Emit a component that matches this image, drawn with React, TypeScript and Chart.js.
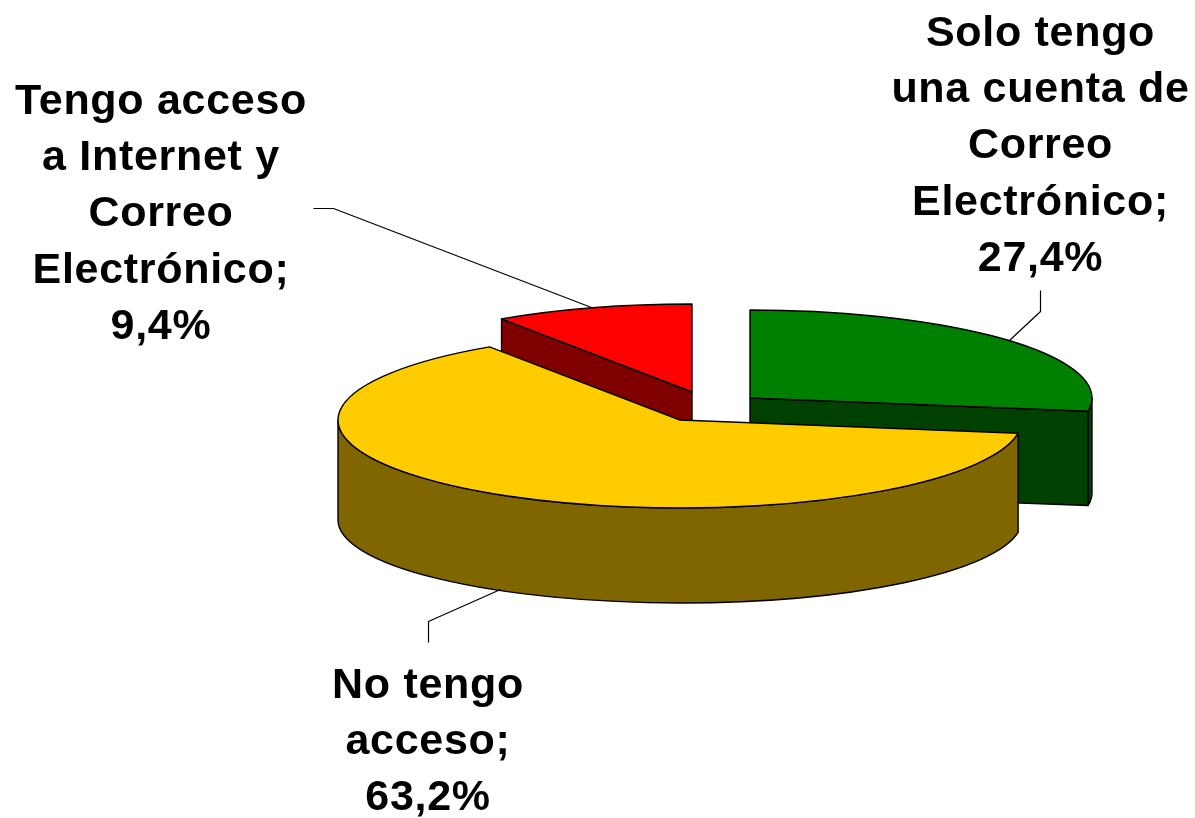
import React, { useEffect, useRef } from "react";
import { Chart, registerables } from "chart.js";

Chart.register(...registerables);

const categories = ["Solo tengo una cuenta de Correo Electrónico", "No tengo acceso", "Tengo acceso a Internet y Correo Electrónico"];
const values = [27.4, 63.2, 9.4];
const topColors = ["#008000", "#FFCC00", "#FF0000"];
const sideColors = ["#004000", "#806600", "#800000"];
const labelLines = [
  ["Solo tengo", "una cuenta de", "Correo", "Electrónico;", "27,4%"],
  ["No tengo", "acceso;", "63,2%"],
  ["Tengo acceso", "a Internet y", "Correo", "Electrónico;", "9,4%"],
];
const labelCentersX = [1040.5, 428, 161];
const labelBaselinesY = [46, 698, 114];
const leaderLines = [
  [[1040, 290], [1040, 311], [1009, 340]],
  [[428, 642], [428, 621], [500, 589]],
  [[313, 208], [333, 208], [591, 307]],
];
const sliceCenters = [[750, 398], [680, 420], [692, 392]];
const sliceDepths = [95, 100, 100];
const drawOrder = [2, 0, 1];
const RADIUS = 342;
const TOP_RY = 88;
const BOTTOM_RY = 83;

const pie3d = {
  id: "pie3d",
  beforeDatasetDraw(chart: any) {
    const ctx = chart.ctx;
    const arcs = chart.getDatasetMeta(0).data;
    ctx.lineJoin = "round";
    const outline = () => {
      ctx.strokeStyle = "#000";
      ctx.lineWidth = 1.4;
      ctx.stroke();
    };
    for (const i of drawOrder) {
      const arc = arcs[i];
      const [cx, cy] = sliceCenters[i];
      const rx = arc.outerRadius;
      const depth = sliceDepths[i];
      const a0 = arc.startAngle;
      const a1 = arc.endAngle;
      const pt = (a: number, ry: number, yc: number) => [cx + rx * Math.cos(a), yc + ry * Math.sin(a)];

      // cut face nearest the viewer
      const faceA = i === 0 ? a1 : i === 2 ? a0 : null;
      if (faceA !== null) {
        const rim = pt(faceA, TOP_RY, cy);
        const rimB = pt(faceA, BOTTOM_RY, cy + depth);
        ctx.beginPath();
        ctx.moveTo(cx, cy);
        ctx.lineTo(rim[0], rim[1]);
        ctx.lineTo(rimB[0], rimB[1]);
        ctx.lineTo(cx, cy + depth);
        ctx.closePath();
        ctx.fillStyle = sideColors[i];
        ctx.fill();
        outline();
      }

      // outer wall, the part of the rim that faces the viewer
      const w0 = Math.max(a0, 0);
      const w1 = Math.min(a1, Math.PI);
      if (w1 > w0) {
        ctx.beginPath();
        ctx.ellipse(cx, cy, rx, TOP_RY, 0, w0, w1, false);
        ctx.ellipse(cx, cy + depth, rx, BOTTOM_RY, 0, w1, w0, true);
        ctx.closePath();
        ctx.fillStyle = sideColors[i];
        ctx.fill();
        outline();
      }

      // top face, drawn by the library's own arc element
      ctx.save();
      ctx.translate(cx, cy);
      ctx.scale(1, TOP_RY / rx);
      ctx.translate(-arc.x, -arc.y);
      arc.draw(ctx);
      ctx.restore();

      ctx.beginPath();
      ctx.moveTo(cx, cy);
      ctx.ellipse(cx, cy, rx, TOP_RY, 0, a0, a1, false);
      ctx.closePath();
      outline();
    }
    return false;
  },
  afterDraw(chart: any) {
    const ctx = chart.ctx;
    ctx.save();
    ctx.strokeStyle = "#000";
    ctx.lineWidth = 1.2;
    for (const line of leaderLines) {
      ctx.beginPath();
      line.forEach(([x, y], k) => (k ? ctx.lineTo(x + 0.5, y + 0.5) : ctx.moveTo(x + 0.5, y + 0.5)));
      ctx.stroke();
    }
    ctx.fillStyle = "#000";
    ctx.font = 'bold 43px "Liberation Sans", Arial, sans-serif';
    (ctx as any).letterSpacing = "0.7px";
    ctx.textAlign = "center";
    ctx.textBaseline = "alphabetic";
    labelLines.forEach((lines, i) => {
      lines.forEach((t, k) => ctx.fillText(t, labelCentersX[i], labelBaselinesY[i] + k * 56.2));
    });
    ctx.restore();
  },
};

export default function App() {
  const ref = useRef<HTMLCanvasElement>(null);
  useEffect(() => {
    const chart = new Chart(ref.current as HTMLCanvasElement, {
      type: "pie",
      data: {
        labels: categories,
        datasets: [
          {
            data: values,
            backgroundColor: topColors,
            borderWidth: 0,
            radius: RADIUS,
          } as any,
        ],
      },
      options: {
        responsive: false,
        animation: false,
        events: [],
        layout: { padding: 0 },
        plugins: { legend: { display: false }, tooltip: { enabled: false }, title: { display: false } },
      },
      plugins: [pie3d as any],
    });
    return () => chart.destroy();
  }, []);
  return (
    <canvas
      ref={ref}
      width={1195}
      height={818}
      style={{ position: "absolute", left: 0, top: 0, width: 1195, height: 818, background: "#fff" }}
    />
  );
}
